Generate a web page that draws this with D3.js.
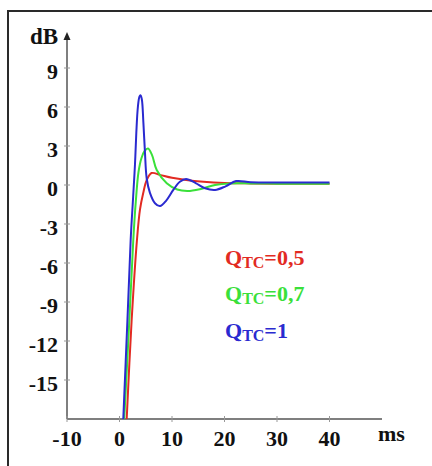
<!DOCTYPE html>
<html>
<head>
<meta charset="utf-8">
<script src="https://cdn.jsdelivr.net/npm/d3@7"></script>
<style>
  html, body { margin: 0; padding: 0; background: #fff; }
  svg { display: block; }
  text { font-family: "Liberation Serif", "Times New Roman", serif; font-weight: bold; }
</style>
</head>
<body>
<svg id="chart" width="432" height="466"></svg>
<script>
// ---- data ----
const xTicks = [-10, 0, 10, 20, 30, 40];
const yTicks = [9, 6, 3, 0, -3, -6, -9, -12, -15];
const seriesNames = ["QTC=0,5", "QTC=0,7", "QTC=1"];
const seriesColors = ["#e22a22", "#3ae03a", "#2a2ad0"];
const legendSub = ["TC", "TC", "TC"];
const legendTail = ["=0,5", "=0,7", "=1"];

// time (ms) / level (dB)
const redT   = [1.37, 2.3, 3.33, 3.9, 4.53, 5.18, 6.13, 7.7, 10, 12.7, 16, 20, 25, 30, 35, 40];
const redDb  = [-18, -10.5, -4.2, -1.9, -0.6, 0.38, 0.92, 0.78, 0.55, 0.38, 0.25, 0.16, 0.12, 0.1, 0.1, 0.1];
const greenT  = [0.9, 1.8, 2.63, 3.1, 3.62, 4.19, 4.76, 5.43, 6.2, 7.09, 9.0, 11.0, 13.0, 15.5, 18.2, 21, 25, 30, 35, 40];
const greenDb = [-18, -11, -4.2, -1.3, 1.0, 2.08, 2.6, 2.8, 2.3, 1.15, 0.13, -0.35, -0.46, -0.3, 0.0, 0.12, 0.12, 0.1, 0.1, 0.1];
const blueT  = [0.72, 1.5, 2.13, 2.6, 2.95, 3.2, 3.5, 3.8, 4.0, 4.25, 4.55, 4.85, 5.18, 5.8, 6.76, 7.71, 8.9, 10.25, 11.5, 12.67, 14.5, 16.3, 18.2, 20.2, 22.2, 25, 30, 35, 40];
const blueDb = [-18, -10.5, -4.2, -0.9, 1.6, 4.0, 6.0, 6.8, 6.9, 6.6, 4.8, 2.5, 0.5, -0.6, -1.4, -1.62, -1.2, -0.38, 0.25, 0.46, 0.15, -0.25, -0.38, -0.1, 0.3, 0.22, 0.2, 0.2, 0.2];

const series = [
  { t: redT, v: redDb },
  { t: greenT, v: greenDb },
  { t: blueT, v: blueDb }
];

// ---- layout ----
const svg = d3.select("#chart");
const x = d3.scaleLinear().domain([-10, 40]).range([67, 329.5]);
const y = d3.scaleLinear().domain([-18, 0]).range([419, 185]);

// frame
svg.append("path")
  .attr("d", "M8,470 L8,11 L440,11")
  .attr("fill", "none").attr("stroke", "#2a2a2a").attr("stroke-width", 2);

const axisColor = "#555";
// y axis
svg.append("line").attr("x1", 67).attr("x2", 67).attr("y1", 419).attr("y2", 38)
  .attr("stroke", axisColor).attr("stroke-width", 1.5);
svg.append("path").attr("d", "M67,32 L63.5,40 L70.5,40 Z").attr("fill", "#222");
// x axis
svg.append("line").attr("x1", 67).attr("x2", 382).attr("y1", 419).attr("y2", 419)
  .attr("stroke", axisColor).attr("stroke-width", 1.5);

// y ticks
yTicks.forEach(v => {
  svg.append("line").attr("x1", 64).attr("x2", 70).attr("y1", y(v)).attr("y2", y(v))
    .attr("stroke", "#999").attr("stroke-width", 1);
  svg.append("text").attr("x", 58).attr("y", y(v) + 10.5).attr("text-anchor", "end")
    .attr("font-size", 22).attr("fill", "#111").text(v);
});
// x ticks
xTicks.forEach(v => {
  svg.append("line").attr("x1", x(v)).attr("x2", x(v)).attr("y1", 416).attr("y2", 422)
    .attr("stroke", "#999").attr("stroke-width", 1);
  svg.append("text").attr("x", x(v)).attr("y", 446).attr("text-anchor", "middle")
    .attr("font-size", 22).attr("fill", "#111").text(v);
});

svg.append("text").attr("x", 30).attr("y", 44).attr("font-size", 23).attr("fill", "#111").text("dB");
svg.append("text").attr("x", 378).attr("y", 441).attr("font-size", 22).attr("fill", "#111").text("ms");

// lines
const line = d3.line().x(d => x(d[0])).y(d => y(d[1])).curve(d3.curveCatmullRom.alpha(0.5));
series.forEach((s, i) => {
  const pts = s.t.map((t, j) => [t, s.v[j]]);
  svg.append("path").datum(pts).attr("d", line)
    .attr("fill", "none").attr("stroke", seriesColors[i]).attr("stroke-width", 2);
});

// legend
const legendY = [265, 301, 338];
seriesNames.forEach((name, i) => {
  const t = svg.append("text").attr("x", 225).attr("y", legendY[i])
    .attr("fill", seriesColors[i]).attr("font-size", 22);
  t.append("tspan").text("Q");
  t.append("tspan").attr("font-size", 16).attr("dy", 3).text(legendSub[i]);
  t.append("tspan").attr("dy", -3).text(legendTail[i]);
});
</script>
</body>
</html>
